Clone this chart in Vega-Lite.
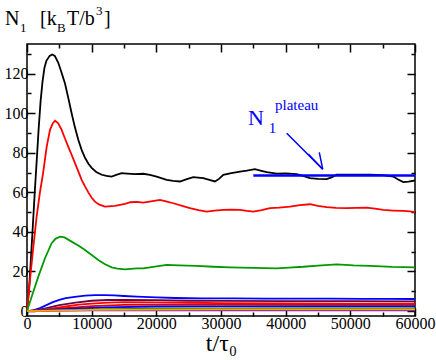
{
  "$schema": "https://vega.github.io/schema/vega-lite/v6.json",
  "width": 388,
  "height": 272,
  "autosize": {"type": "none"},
  "padding": {"left": 27, "top": 44, "right": 21, "bottom": 44},
  "background": "white",
  "config": {
    "view": {"stroke": "black", "strokeWidth": 1.5},
    "axis": {"domain": false, "grid": false, "labelFont": "Liberation Serif", "labelFontSize": 16, "labelColor": "black", "tickColor": "black", "tickWidth": 1.5, "titleFont": "Liberation Serif", "titleColor": "black", "titleFontWeight": "normal"},
    "text": {"font": "Liberation Serif"}
  },
  "datasets": {
    "curves": [
      {"s":"s0","t":0,"n":0},{"s":"s0","t":300,"n":10},{"s":"s0","t":600,"n":26},{"s":"s0","t":900,"n":43},{"s":"s0","t":1200,"n":60},{"s":"s0","t":1500,"n":76},{"s":"s0","t":1800,"n":92},{"s":"s0","t":2100,"n":106},{"s":"s0","t":2400,"n":116},{"s":"s0","t":2700,"n":123},{"s":"s0","t":3000,"n":126.5},{"s":"s0","t":3500,"n":129},{"s":"s0","t":3900,"n":129.7},{"s":"s0","t":4300,"n":129},{"s":"s0","t":4840,"n":125.5},{"s":"s0","t":5300,"n":121},{"s":"s0","t":5875,"n":115},{"s":"s0","t":6400,"n":107.5},{"s":"s0","t":6900,"n":100},{"s":"s0","t":7400,"n":93},{"s":"s0","t":7930,"n":86.6},{"s":"s0","t":8450,"n":81.5},{"s":"s0","t":8970,"n":77.5},{"s":"s0","t":9500,"n":74.5},{"s":"s0","t":10000,"n":72.4},{"s":"s0","t":10700,"n":70.3},{"s":"s0","t":11550,"n":68.9},{"s":"s0","t":12300,"n":68.3},{"s":"s0","t":13090,"n":68},{"s":"s0","t":13800,"n":68.8},{"s":"s0","t":14640,"n":69.7},{"s":"s0","t":15500,"n":69.5},{"s":"s0","t":16700,"n":69.2},{"s":"s0","t":17980,"n":69.4},{"s":"s0","t":19000,"n":68.8},{"s":"s0","t":20050,"n":68},{"s":"s0","t":21600,"n":66.3},{"s":"s0","t":22600,"n":65.8},{"s":"s0","t":23650,"n":65.5},{"s":"s0","t":24600,"n":66.6},{"s":"s0","t":25710,"n":67.7},{"s":"s0","t":27260,"n":67.2},{"s":"s0","t":28200,"n":66.3},{"s":"s0","t":29060,"n":65.5},{"s":"s0","t":29700,"n":66.8},{"s":"s0","t":30350,"n":68.9},{"s":"s0","t":31600,"n":69.7},{"s":"s0","t":32930,"n":70.5},{"s":"s0","t":34000,"n":71},{"s":"s0","t":35250,"n":71.7},{"s":"s0","t":36100,"n":71},{"s":"s0","t":37060,"n":70.2},{"s":"s0","t":38600,"n":69.5},{"s":"s0","t":40000,"n":69.6},{"s":"s0","t":41700,"n":69.2},{"s":"s0","t":42700,"n":68.3},{"s":"s0","t":43750,"n":67.2},{"s":"s0","t":45000,"n":66.8},{"s":"s0","t":46330,"n":66.7},{"s":"s0","t":47100,"n":67.6},{"s":"s0","t":47880,"n":68.9},{"s":"s0","t":49500,"n":69},{"s":"s0","t":50970,"n":68.9},{"s":"s0","t":53000,"n":69},{"s":"s0","t":55090,"n":68.7},{"s":"s0","t":56630,"n":68},{"s":"s0","t":57400,"n":66.5},{"s":"s0","t":58180,"n":65.2},{"s":"s0","t":59000,"n":65.4},{"s":"s0","t":60000,"n":66},
      {"s":"s1","t":0,"n":0},{"s":"s1","t":460,"n":15.7},{"s":"s1","t":1000,"n":33},{"s":"s1","t":1500,"n":48},{"s":"s1","t":2000,"n":60},{"s":"s1","t":2500,"n":70},{"s":"s1","t":3040,"n":83},{"s":"s1","t":3560,"n":91.6},{"s":"s1","t":4000,"n":95},{"s":"s1","t":4330,"n":96.2},{"s":"s1","t":4800,"n":95},{"s":"s1","t":5360,"n":91.6},{"s":"s1","t":5900,"n":87},{"s":"s1","t":6390,"n":83},{"s":"s1","t":6900,"n":79},{"s":"s1","t":7420,"n":74.8},{"s":"s1","t":7950,"n":70.5},{"s":"s1","t":8450,"n":66.3},{"s":"s1","t":8970,"n":63},{"s":"s1","t":9480,"n":60},{"s":"s1","t":10000,"n":57.3},{"s":"s1","t":10510,"n":55.3},{"s":"s1","t":11200,"n":53.8},{"s":"s1","t":12060,"n":52.8},{"s":"s1","t":13600,"n":53.2},{"s":"s1","t":15150,"n":54.2},{"s":"s1","t":16000,"n":55},{"s":"s1","t":17000,"n":55.2},{"s":"s1","t":17980,"n":54.8},{"s":"s1","t":19200,"n":55.5},{"s":"s1","t":20560,"n":56.2},{"s":"s1","t":21500,"n":55.5},{"s":"s1","t":22620,"n":54.5},{"s":"s1","t":24000,"n":53.2},{"s":"s1","t":25200,"n":52},{"s":"s1","t":26500,"n":51},{"s":"s1","t":27780,"n":50.3},{"s":"s1","t":29000,"n":50.8},{"s":"s1","t":30350,"n":51.1},{"s":"s1","t":31500,"n":51.3},{"s":"s1","t":32930,"n":51.1},{"s":"s1","t":34000,"n":50.6},{"s":"s1","t":34990,"n":50.3},{"s":"s1","t":36300,"n":51},{"s":"s1","t":37570,"n":52},{"s":"s1","t":39000,"n":52.3},{"s":"s1","t":40660,"n":52.8},{"s":"s1","t":42200,"n":53.5},{"s":"s1","t":43750,"n":54},{"s":"s1","t":45000,"n":53.2},{"s":"s1","t":46330,"n":52.5},{"s":"s1","t":47800,"n":52.2},{"s":"s1","t":49420,"n":52},{"s":"s1","t":51000,"n":52.2},{"s":"s1","t":52520,"n":52.3},{"s":"s1","t":53800,"n":51.8},{"s":"s1","t":55090,"n":51.1},{"s":"s1","t":56600,"n":50.8},{"s":"s1","t":58180,"n":50.6},{"s":"s1","t":59200,"n":50.4},{"s":"s1","t":60000,"n":50},
      {"s":"s2","t":0,"n":0},{"s":"s2","t":720,"n":7.2},{"s":"s2","t":1750,"n":17.4},{"s":"s2","t":2780,"n":26.7},{"s":"s2","t":3810,"n":34.3},{"s":"s2","t":4400,"n":36.5},{"s":"s2","t":5100,"n":37.6},{"s":"s2","t":5800,"n":37.2},{"s":"s2","t":6900,"n":35.1},{"s":"s2","t":8000,"n":33},{"s":"s2","t":8970,"n":30.9},{"s":"s2","t":10000,"n":28.3},{"s":"s2","t":11030,"n":25.8},{"s":"s2","t":12000,"n":23.8},{"s":"s2","t":13090,"n":22.1},{"s":"s2","t":14000,"n":21.5},{"s":"s2","t":15150,"n":21.1},{"s":"s2","t":16000,"n":21.3},{"s":"s2","t":17000,"n":21.6},{"s":"s2","t":18000,"n":21.6},{"s":"s2","t":19500,"n":22.3},{"s":"s2","t":21600,"n":23.3},{"s":"s2","t":23500,"n":23.1},{"s":"s2","t":26240,"n":22.8},{"s":"s2","t":28800,"n":22.4},{"s":"s2","t":31390,"n":22.1},{"s":"s2","t":35000,"n":21.8},{"s":"s2","t":38600,"n":21.6},{"s":"s2","t":40500,"n":22},{"s":"s2","t":42720,"n":22.4},{"s":"s2","t":45000,"n":23},{"s":"s2","t":47880,"n":23.6},{"s":"s2","t":50500,"n":23.1},{"s":"s2","t":53030,"n":22.8},{"s":"s2","t":56500,"n":22.3},{"s":"s2","t":60000,"n":22.1},
      {"s":"s3","t":0,"n":0},{"s":"s3","t":1000,"n":0.3},{"s":"s3","t":2000,"n":1.5},{"s":"s3","t":3000,"n":3},{"s":"s3","t":4000,"n":4.5},{"s":"s3","t":5000,"n":5.6},{"s":"s3","t":6000,"n":6.5},{"s":"s3","t":7400,"n":7.2},{"s":"s3","t":9000,"n":7.8},{"s":"s3","t":10500,"n":8.1},{"s":"s3","t":12000,"n":8.1},{"s":"s3","t":13500,"n":7.9},{"s":"s3","t":15000,"n":7.6},{"s":"s3","t":17000,"n":7.3},{"s":"s3","t":20000,"n":6.9},{"s":"s3","t":23000,"n":6.6},{"s":"s3","t":27000,"n":6.4},{"s":"s3","t":32000,"n":6.4},{"s":"s3","t":37000,"n":6.3},{"s":"s3","t":42000,"n":6.3},{"s":"s3","t":47000,"n":6.3},{"s":"s3","t":52000,"n":6.2},{"s":"s3","t":56000,"n":6.2},{"s":"s3","t":60000,"n":6.1},
      {"s":"s4","t":0,"n":0},{"s":"s4","t":1500,"n":0.4},{"s":"s4","t":3000,"n":1.5},{"s":"s4","t":5000,"n":3},{"s":"s4","t":7500,"n":4.3},{"s":"s4","t":10000,"n":5.2},{"s":"s4","t":12500,"n":5.6},{"s":"s4","t":15000,"n":5.7},{"s":"s4","t":20000,"n":5.5},{"s":"s4","t":25000,"n":5.2},{"s":"s4","t":30000,"n":5.1},{"s":"s4","t":40000,"n":5},{"s":"s4","t":50000,"n":5},{"s":"s4","t":60000,"n":4.9},
      {"s":"s5","t":0,"n":0},{"s":"s5","t":2000,"n":0.4},{"s":"s5","t":4000,"n":1.3},{"s":"s5","t":6000,"n":2.3},{"s":"s5","t":8000,"n":3.2},{"s":"s5","t":10000,"n":3.8},{"s":"s5","t":12500,"n":4.3},{"s":"s5","t":15000,"n":4.5},{"s":"s5","t":20000,"n":4.4},{"s":"s5","t":25000,"n":4.2},{"s":"s5","t":30000,"n":4},{"s":"s5","t":40000,"n":3.9},{"s":"s5","t":50000,"n":3.8},{"s":"s5","t":60000,"n":3.8},
      {"s":"s6","t":0,"n":0},{"s":"s6","t":3000,"n":0.5},{"s":"s6","t":6000,"n":1.5},{"s":"s6","t":10000,"n":2.5},{"s":"s6","t":15000,"n":3.1},{"s":"s6","t":20000,"n":3.3},{"s":"s6","t":30000,"n":3.2},{"s":"s6","t":45000,"n":3.1},{"s":"s6","t":60000,"n":3.1},
      {"s":"s7","t":0,"n":0},{"s":"s7","t":3000,"n":0.4},{"s":"s7","t":8000,"n":1.3},{"s":"s7","t":12000,"n":1.9},{"s":"s7","t":20000,"n":2.3},{"s":"s7","t":30000,"n":2.4},{"s":"s7","t":45000,"n":2.4},{"s":"s7","t":60000,"n":2.4},
      {"s":"s8","t":0,"n":0},{"s":"s8","t":10000,"n":0.8},{"s":"s8","t":20000,"n":1.2},{"s":"s8","t":40000,"n":1.3},{"s":"s8","t":60000,"n":1.3},
      {"s":"s9","t":0,"n":0},{"s":"s9","t":10000,"n":0.3},{"s":"s9","t":30000,"n":0.4},{"s":"s9","t":60000,"n":0.4},
      {"s":"s10","t":0,"n":0},{"s":"s10","t":10000,"n":0.6},{"s":"s10","t":30000,"n":0.8},{"s":"s10","t":60000,"n":0.8}
    ],
    "origin": [{"t": 0, "n": 0}],
    "one": [{}]
  },
  "layer": [
    {
      "data": {"name": "curves"},
      "mark": {"type": "line", "strokeWidth": 1.8},
      "encoding": {
        "x": {"field": "t", "type": "quantitative", "scale": {"domain": [0, 60000], "nice": false, "zero": false},
              "axis": {"orient": "bottom", "values": [0,10000,20000,30000,40000,50000,60000], "format": "d", "tickSize": -8, "labelPadding": 7, "labelFont": "Liberation Serif, Times New Roman, serif", "title": "t/τ₀", "titleFont": "Liberation Serif", "titleFontSize": 24, "titlePadding": 0, "labelFlush": false}},
        "y": {"field": "n", "type": "quantitative", "scale": {"domain": [-2.5, 135], "nice": false, "zero": false},
              "axis": {"orient": "left", "values": [0,20,40,60,80,100,120], "tickSize": -8, "labelPadding": 7, "labelFont": "Liberation Serif, Times New Roman, serif", "title": null}},
        "color": {"field": "s", "type": "nominal", "legend": null,
                  "scale": {"domain": ["s0","s1","s2","s3","s4","s5","s6","s7","s8","s9","s10"],
                            "range": ["#000000","#ff0000","#009900","#0000ff","#670748","#ff0000","#e00000","#0000ff","#009900","#9400d3","#ffa500"]}},
        "order": {"field": "t", "type": "quantitative"}
      }
    },
    {
      "data": {"name": "origin"},
      "mark": {"type": "point", "opacity": 0},
      "encoding": {
        "x": {"field": "t", "type": "quantitative", "axis": {"orient": "bottom", "values": [5000,15000,25000,35000,45000,55000], "tickSize": -4, "labels": false, "title": null}},
        "y": {"field": "n", "type": "quantitative", "axis": {"orient": "left", "values": [10,30,50,70,90,110,130], "tickSize": -4, "labels": false, "title": null}}
      }
    },
    {
      "data": {"name": "origin"},
      "mark": {"type": "point", "opacity": 0},
      "encoding": {
        "x": {"field": "t", "type": "quantitative", "axis": {"orient": "top", "values": [0,10000,20000,30000,40000,50000,60000], "tickSize": -8, "labels": false, "title": null}},
        "y": {"field": "n", "type": "quantitative", "axis": {"orient": "right", "values": [0,20,40,60,80,100,120], "tickSize": -8, "labels": false, "title": null}}
      }
    },
    {
      "data": {"name": "origin"},
      "mark": {"type": "point", "opacity": 0},
      "encoding": {
        "x": {"field": "t", "type": "quantitative", "axis": {"orient": "top", "values": [5000,15000,25000,35000,45000,55000], "tickSize": -4, "labels": false, "title": null}},
        "y": {"field": "n", "type": "quantitative", "axis": {"orient": "right", "values": [10,30,50,70,90,110,130], "tickSize": -4, "labels": false, "title": null}}
      }
    },
    {
      "data": {"name": "one"},
      "mark": {"type": "rule", "color": "#0000ff", "strokeWidth": 2.5},
      "encoding": {"x": {"datum": 35000, "type": "quantitative", "axis": null}, "x2": {"datum": 60000}, "y": {"datum": 68.5, "type": "quantitative", "axis": null}}
    },
    {
      "data": {"name": "one"},
      "mark": {"type": "rule", "color": "#0000ff", "strokeWidth": 1.5},
      "encoding": {"x": {"datum": 40160, "type": "quantitative", "axis": null}, "x2": {"datum": 45727}, "y": {"datum": 89.9, "type": "quantitative", "axis": null}, "y2": {"datum": 71.7}}
    },
    {
      "data": {"name": "one"},
      "mark": {"type": "rule", "color": "#0000ff", "strokeWidth": 1.5},
      "encoding": {"x": {"datum": 43500, "type": "quantitative", "axis": null}, "x2": {"datum": 45727}, "y": {"datum": 79.4, "type": "quantitative", "axis": null}, "y2": {"datum": 71.7}}
    },
    {
      "data": {"name": "one"},
      "mark": {"type": "rule", "color": "#0000ff", "strokeWidth": 1.5},
      "encoding": {"x": {"datum": 45200, "type": "quantitative", "axis": null}, "x2": {"datum": 45727}, "y": {"datum": 80.2, "type": "quantitative", "axis": null}, "y2": {"datum": 71.7}}
    },
    {
      "data": {"name": "one"},
      "mark": {"type": "text", "text": "N", "fontSize": 22, "color": "#0000ff", "align": "left", "baseline": "alphabetic"},
      "encoding": {"x": {"datum": 34175, "type": "quantitative", "axis": null}, "y": {"datum": 94.1, "type": "quantitative", "axis": null}}
    },
    {
      "data": {"name": "one"},
      "mark": {"type": "text", "text": "1", "fontSize": 15, "color": "#0000ff", "align": "left", "baseline": "alphabetic"},
      "encoding": {"x": {"datum": 37400, "type": "quantitative", "axis": null}, "y": {"datum": 90.0, "type": "quantitative", "axis": null}}
    },
    {
      "data": {"name": "one"},
      "mark": {"type": "text", "text": "plateau", "fontSize": 15, "color": "#0000ff", "align": "left", "baseline": "alphabetic"},
      "encoding": {"x": {"datum": 38351, "type": "quantitative", "axis": null}, "y": {"datum": 101.6, "type": "quantitative", "axis": null}}
    },
    {
      "data": {"name": "one"},
      "mark": {"type": "text", "text": "N", "fontSize": 20, "color": "black", "align": "left", "baseline": "alphabetic"},
      "encoding": {"x": {"datum": -3402, "type": "quantitative", "axis": null}, "y": {"datum": 144.6, "type": "quantitative", "axis": null}}
    },
    {
      "data": {"name": "one"},
      "mark": {"type": "text", "text": "1", "fontSize": 13, "color": "black", "align": "left", "baseline": "alphabetic"},
      "encoding": {"x": {"datum": -1082, "type": "quantitative", "axis": null}, "y": {"datum": 141.1, "type": "quantitative", "axis": null}}
    },
    {
      "data": {"name": "one"},
      "mark": {"type": "text", "text": "[k", "fontSize": 20, "color": "black", "align": "left", "baseline": "alphabetic"},
      "encoding": {"x": {"datum": 2010, "type": "quantitative", "axis": null}, "y": {"datum": 144.6, "type": "quantitative", "axis": null}}
    },
    {
      "data": {"name": "one"},
      "mark": {"type": "text", "text": "B", "fontSize": 13, "color": "black", "align": "left", "baseline": "alphabetic"},
      "encoding": {"x": {"datum": 4639, "type": "quantitative", "axis": null}, "y": {"datum": 141.1, "type": "quantitative", "axis": null}}
    },
    {
      "data": {"name": "one"},
      "mark": {"type": "text", "text": "T/b", "fontSize": 20, "color": "black", "align": "left", "baseline": "alphabetic"},
      "encoding": {"x": {"datum": 6186, "type": "quantitative", "axis": null}, "y": {"datum": 144.6, "type": "quantitative", "axis": null}}
    },
    {
      "data": {"name": "one"},
      "mark": {"type": "text", "text": "3", "fontSize": 13, "color": "black", "align": "left", "baseline": "alphabetic"},
      "encoding": {"x": {"datum": 10670, "type": "quantitative", "axis": null}, "y": {"datum": 149.7, "type": "quantitative", "axis": null}}
    },
    {
      "data": {"name": "one"},
      "mark": {"type": "text", "text": "]", "fontSize": 20, "color": "black", "align": "left", "baseline": "alphabetic"},
      "encoding": {"x": {"datum": 11907, "type": "quantitative", "axis": null}, "y": {"datum": 144.6, "type": "quantitative", "axis": null}}
    }
  ],
  "resolve": {"axis": {"x": "independent", "y": "independent"}}
}
